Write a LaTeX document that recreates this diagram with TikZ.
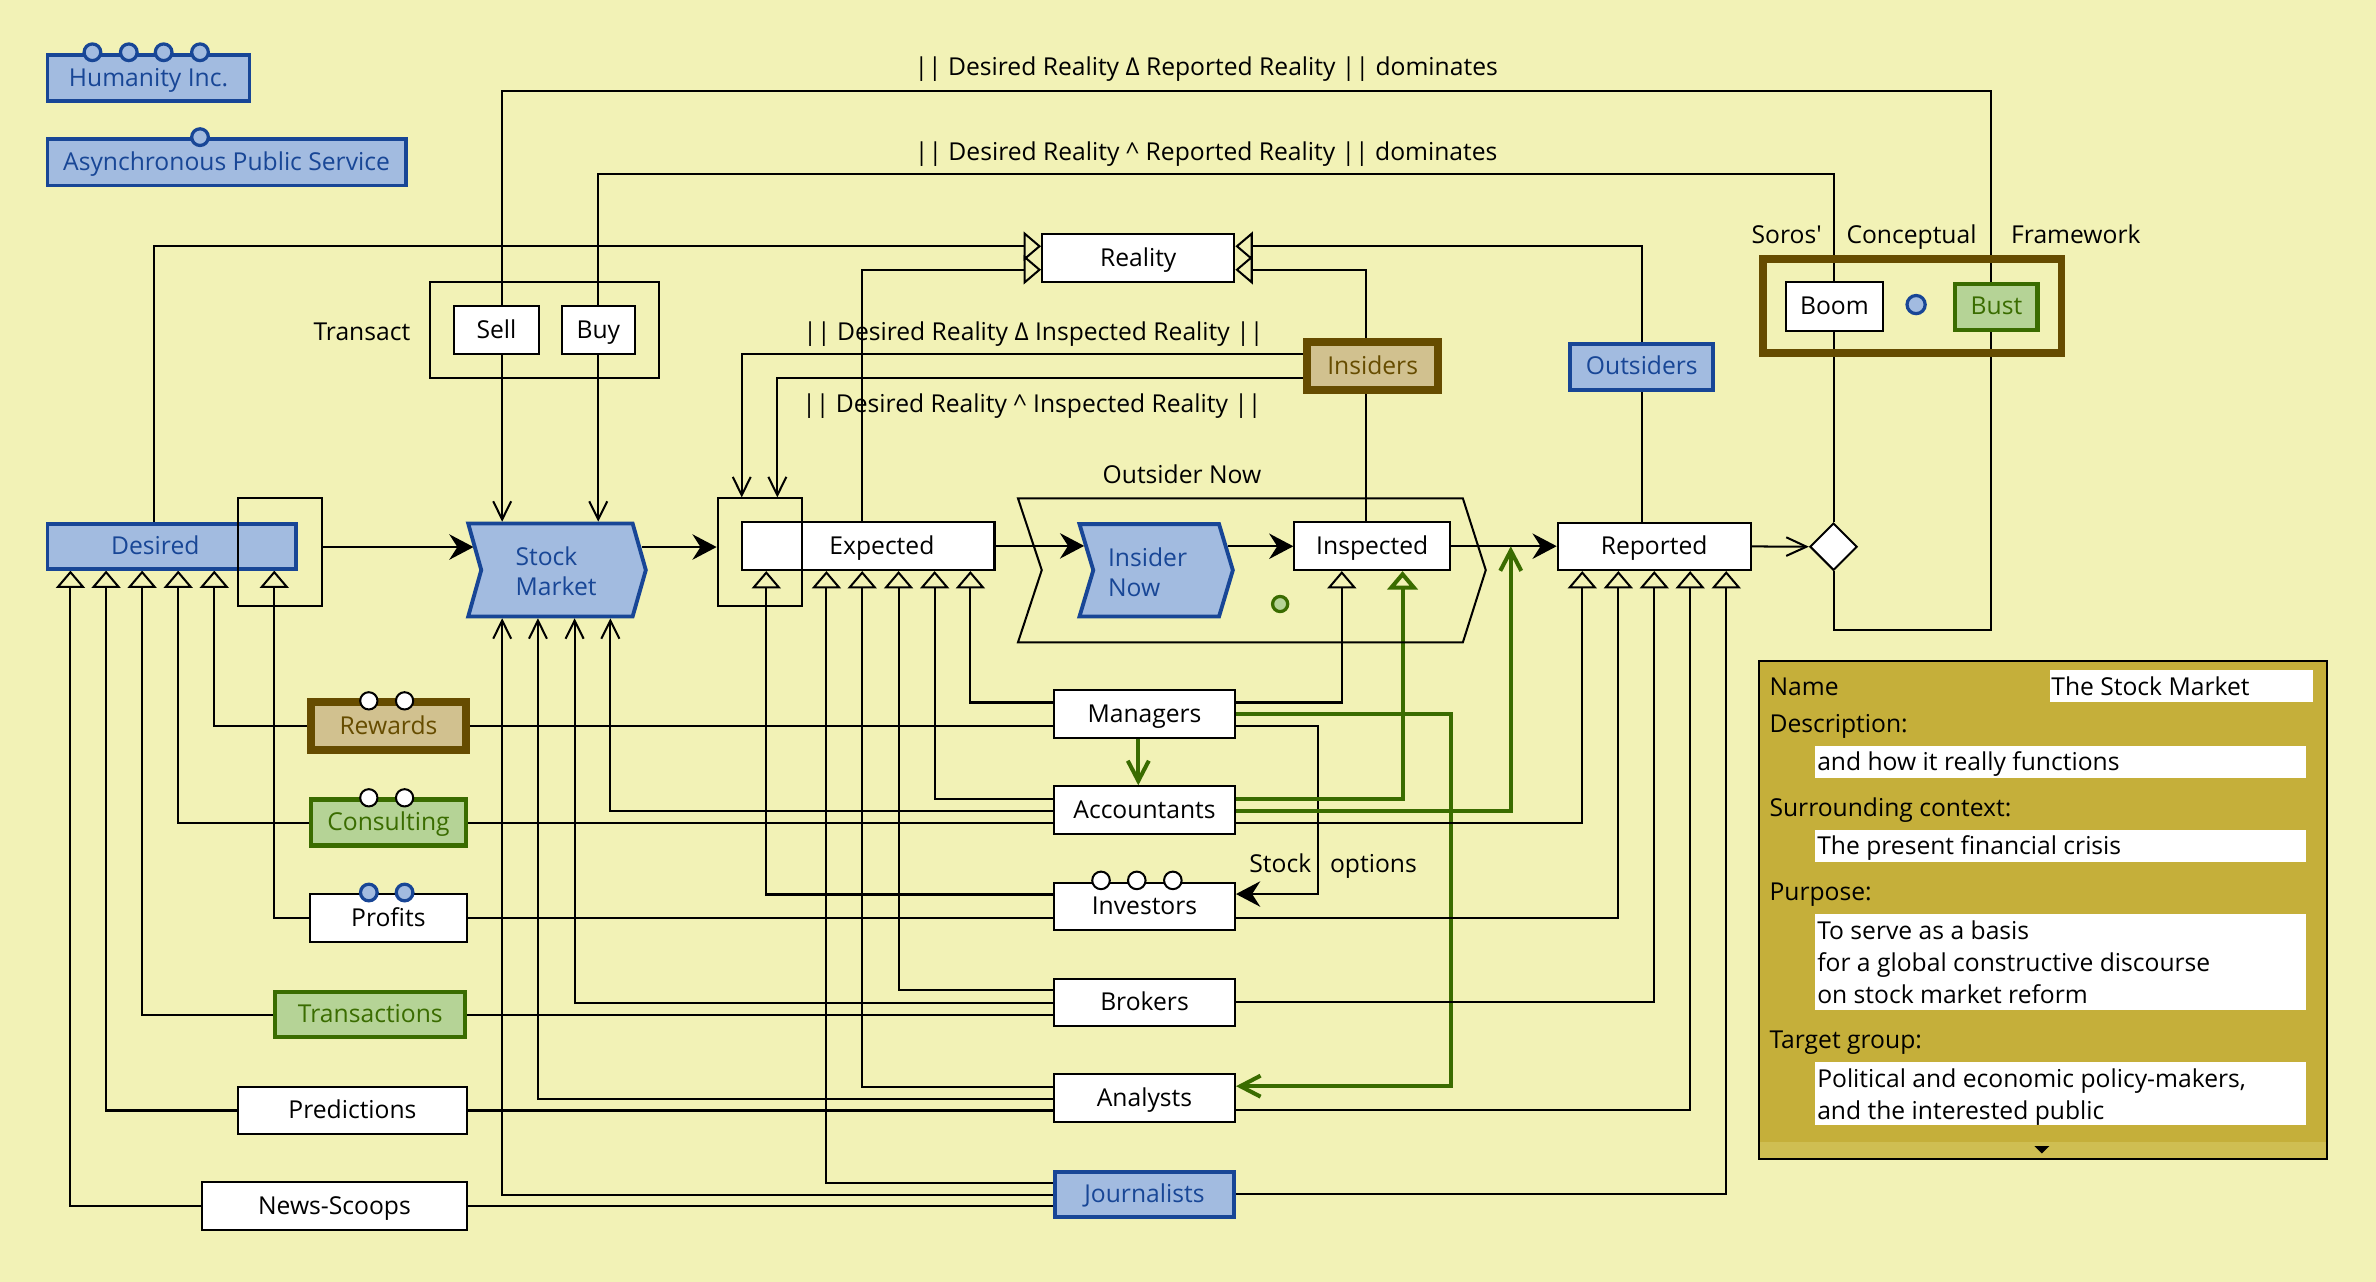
\documentclass[tikz,border=0pt]{standalone}
\usepackage{fontspec}
\setmainfont{Open Sans}
\usetikzlibrary{arrows.meta,shapes.geometric}
\definecolor{bgy}{RGB}{242,242,182}
\definecolor{bluelt}{RGB}{162,187,224}
\definecolor{bluedk}{RGB}{24,70,150}
\definecolor{greenlt}{RGB}{181,211,150}
\definecolor{greendk}{RGB}{58,108,0}
\definecolor{brownlt}{RGB}{209,193,143}
\definecolor{browndk}{RGB}{102,76,0}
\definecolor{olivep}{RGB}{197,175,58}
\definecolor{olivelt}{RGB}{207,190,82}
\pgfdeclarelayer{bgl}
\pgfdeclarelayer{lines}
\pgfsetlayers{bgl,lines,main}
\newcommand\myfont{\fontsize{12.2pt}{14.6pt}\selectfont}
\newcommand\mymlfont{\fontsize{12.2pt}{15pt}\selectfont}
\tikzset{
  bxat/.style n args={4}{at={({(#1+#3)/2},{(#2+#4)/2})}, minimum width={(#3-#1)*0.75pt}, minimum height={(#4-#2)*0.75pt}},
  box/.style={draw=black, line width=1pt, fill=white, inner sep=0pt, font=\myfont, text height=10.4pt, text depth=2.4pt},
  bluebox/.style={box, draw=bluedk, fill=bluelt, text=bluedk, line width=1.9pt},
  greenbox/.style={box, draw=greendk, fill=greenlt, text=greendk, line width=2.1pt},
  brownbox/.style={box, draw=browndk, fill=brownlt, text=browndk, line width=3.9pt},
  grp/.style={draw=black, line width=1pt, inner sep=0pt},
  lbl/.style={font=\myfont, inner sep=0pt, text height=10.2pt, text depth=2.4pt},
  mlbl/.style={font=\mymlfont, inner sep=0pt, align=left, anchor=west},
  conn/.style={draw=black, line width=1pt},
  gconn/.style={draw=greendk, line width=2pt},
  tri/.style={-{Triangle[open, length=8.6pt, width=14.4pt]}},
  gtri/.style={-{Triangle[open, length=9.2pt, width=15pt]}},
  vtip/.style={-{Straight Barb[length=9pt, width=8.9pt]}},
  vtipb/.style={-{Straight Barb[length=10pt, width=9.2pt]}},
  gvtip/.style={-{Straight Barb[length=10pt, width=10.4pt]}},
  stl/.style={-{Stealth[length=12pt, width=12.6pt, inset=4pt]}},
  wdot/.style={draw=black, line width=1pt, fill=white},
  bdot/.style={draw=bluedk, line width=1.6pt, fill=bluelt},
}
\begin{document}
\begin{tikzpicture}[x=0.75pt, y=-0.75pt]
\begin{pgfonlayer}{bgl}
\fill[bgy] (0,0) rectangle (1568,846);
\end{pgfonlayer}
\useasboundingbox (0,0) rectangle (1568,846);

% legend
\node[bluebox, bxat={31.3}{36.3}{164.7}{66.7}] (hum) {Humanity Inc.};
\foreach \cx in {61,85,108,132} \draw[bdot] (\cx,34.5) circle[radius=5.5];
\node[bluebox, bxat={31.3}{91.9}{267.7}{122.4}] (aps) {Asynchronous Public Service};
\draw[bdot] (132,90.5) circle[radius=5.5];

% top labels
\node[lbl] (dom1) at (796,44.5) {|| Desired Reality Δ Reported Reality || dominates};
\node[lbl] (dom2) at (796,100.5) {|| Desired Reality \textasciicircum{} Reported Reality || dominates};

% transact
\node[box, bxat={299.7}{201.7}{355.6}{233.9}] (sell) {Sell};
\node[box, bxat={370.6}{201.7}{419.2}{233.9}] (buy) {Buy};
\node[grp, bxat={283.8}{186.3}{434.6}{249.7}] (trg) {};
\node[lbl, anchor=east] (trl) at (271,219.5) {Transact};

% reality, insiders, outsiders
\node[box, bxat={687.7}{154.4}{814.6}{186.3}] (rea) {Reality};
\node[brownbox, bxat={862.6}{225.6}{949.1}{257.4}] (ins) {Insiders};
\node[lbl] (il1) at (682,219.5) {|| Desired Reality Δ Inspected Reality ||};
\node[lbl] (il2) at (681,267) {|| Desired Reality \textasciicircum{} Inspected Reality ||};
\node[bluebox, bxat={1036.3}{226.8}{1130.7}{257.2}] (outs) {Outsiders};

% framework
\node[draw=browndk, line width=3.9pt, inner sep=0pt, bxat={1163.6}{170.9}{1360.4}{232.8}] (scf) {};
\node[box, bxat={1178.7}{185.9}{1242.5}{218.2}] (boom) {Boom};
\draw[bdot] (1264.5,201) circle[radius=6];
\node[greenbox, bxat={1290.4}{187.4}{1344.6}{217.6}] (bust) {Bust};
\node[lbl, anchor=east] (scf1) at (1202.5,155.5) {Soros\textquotesingle};
\node[lbl, anchor=west] (scf2) at (1218.3,155.5) {Conceptual};
\node[lbl, anchor=west] (scf3) at (1327,155.5) {Framework};

% desired
\node[bluebox, bxat={31.3}{345.6}{195.5}{375.3}] (des) {};
\node[lbl, text=bluedk] (desl) at (102.5,361) {Desired};
\node[grp, bxat={157}{328.9}{212.7}{400}] (desg) {};

% stock market
\filldraw[draw=bluedk, fill=bluelt, line width=1.9pt, line join=miter] (309,345.5) -- (417.5,345.5) -- (426.2,376.2) -- (417.5,406.8) -- (309,406.8) -- (317.6,376.2) -- cycle;
\node[mlbl, text=bluedk] (sm) at (340,377) {Stock\\Market};
\coordinate (smT1) at (331.4,344.3);
\coordinate (smT2) at (394.8,344.3);
\coordinate (smB1) at (331.4,408);
\coordinate (smB2) at (355,408);
\coordinate (smB3) at (379.2,408);
\coordinate (smB4) at (402.8,408);
\coordinate (smW) at (312.5,361);
\coordinate (smE) at (423.5,361);

% expected
\node[box, bxat={489.5}{344.3}{656.3}{376.2}] (exp) {};
\node[lbl] (expl) at (582,361) {Expected};
\node[grp, bxat={473.6}{328.9}{529.3}{400}] (expg) {};

% outsider now / insider now
\draw[line width=1pt, line join=miter] (671.8,328.9) -- (965.4,328.9) -- (980.5,376.2) -- (965.4,423.9) -- (671.8,423.9) -- (687.5,376.2) -- cycle;
\node[lbl] (onl) at (780,314) {Outsider Now};
\filldraw[draw=bluedk, fill=bluelt, line width=1.9pt, line join=miter] (712.4,345.9) -- (804.5,345.9) -- (813.6,376.3) -- (804.5,406.8) -- (712.4,406.8) -- (721.5,376.3) -- cycle;
\node[mlbl, text=bluedk] (inow) at (731,377.5) {Insider\\Now};
\coordinate (inowW) at (715.5,360.5);
\coordinate (inowE) at (810.2,360.5);
\draw[draw=greendk, fill=greenlt, line width=1.6pt] (844.8,398.6) circle[radius=5];

\node[box, bxat={854.2}{344.7}{957}{376.2}] (insp) {Inspected};
\node[box, bxat={1028}{345}{1155.3}{376.2}] (rep) {Reported};
\node[diamond, draw=black, line width=1pt, fill=white, minimum width=23.4pt, minimum height=23.4pt, inner sep=0pt] (dia) at (1210,360.8) {};
\coordinate (gup) at (997,360.5);

% left column
\node[brownbox, bxat={205.3}{463.5}{307.4}{495}] (rew) {Rewards};
\foreach \cx in {243.4,267} \draw[wdot] (\cx,462.5) circle[radius=5.7];
\node[greenbox, bxat={205.4}{527.6}{307.4}{558}] (con) {Consulting};
\foreach \cx in {243.4,267} \draw[wdot] (\cx,526.5) circle[radius=5.7];
\node[box, bxat={204.7}{590}{307.9}{621.9}] (pro) {Profits};
\foreach \cx in {243.4,267} \draw[bdot] (\cx,589) circle[radius=5.5];
\node[greenbox, bxat={181.7}{654.7}{307.1}{684.5}] (tra) {Transactions};
\node[box, bxat={157.3}{717.1}{307.9}{748.6}] (pre) {Predictions};
\node[box, bxat={133.5}{780.3}{307.9}{811.7}] (news) {News-Scoops};

% middle column
\node[box, bxat={695.6}{455.6}{815}{487}] (mgr) {Managers};
\node[box, bxat={695.6}{518.9}{815}{550.5}] (acc) {Accountants};
\node[box, bxat={695.6}{582.5}{815}{613.8}] (inv) {Investors};
\foreach \cx in {726.6,750.2,774} \draw[wdot] (\cx,581) circle[radius=5.8];
\node[box, bxat={695.6}{645.8}{815}{677.1}] (bro) {Brokers};
\node[box, bxat={695.6}{709}{815}{740.7}] (ana) {Analysts};
\node[bluebox, bxat={696.3}{773.5}{814.2}{803.2}] (jou) {Journalists};
\node[lbl, anchor=east] (so1) at (865.6,570.5) {Stock};
\node[lbl, anchor=west] (so2) at (877.5,570.5) {options};

% info panel
\node[draw=black, line width=1pt, fill=olivep, inner sep=0pt, bxat={1160.8}{436.2}{1535.7}{764.6}] (panel) {};
\fill[olivelt] (1161.6,753.7) rectangle (1534.9,763.9);
\fill[black] (1342.5,756.3) -- (1352.5,756.3) -- (1347.5,761.2) -- cycle;
\node[fill=white, inner sep=0pt, bxat={1353}{442.2}{1526.5}{463.3}] (fname) {};
\node[fill=white, inner sep=0pt, bxat={1198}{492}{1521.6}{513.4}] (fdesc) {};
\node[fill=white, inner sep=0pt, bxat={1198}{547.8}{1521.6}{569}] (fctx) {};
\node[fill=white, inner sep=0pt, bxat={1198}{603.2}{1521.6}{666.6}] (fpur) {};
\node[fill=white, inner sep=0pt, bxat={1198}{701}{1521.6}{742.7}] (ftar) {};
\node[lbl, anchor=west] (pn) at (1167.5,453.5) {Name};
\node[lbl, anchor=west] (pnv) at (1353.5,453.5) {The Stock Market};
\node[lbl, anchor=west] (pd) at (1167.5,478) {Description:};
\node[lbl, anchor=west] (pdv) at (1199,503.2) {and how it really functions};
\node[lbl, anchor=west] (pc) at (1167.5,533.4) {Surrounding context:};
\node[lbl, anchor=west] (pcv) at (1199,558.9) {The present financial crisis};
\node[lbl, anchor=west] (pp) at (1167.5,588.8) {Purpose:};
\node[lbl, anchor=west] (ppv1) at (1199,614.7) {To serve as a basis};
\node[lbl, anchor=west] (ppv2) at (1199,635.9) {for a global constructive discourse};
\node[lbl, anchor=west] (ppv3) at (1199,657.2) {on stock market reform};
\node[lbl, anchor=west] (pt) at (1167.5,686.6) {Target group:};
\node[lbl, anchor=west] (ptv1) at (1199,712.7) {Political and economic policy-makers,};
\node[lbl, anchor=west] (ptv2) at (1199,733.7) {and the interested public};

% connectors
\begin{pgfonlayer}{lines}
\draw[conn] (dia.south) -- (dia.south |- 0,415.8) -- (1313.7,415.8) -- (1313.7,60) -- (331.4,60) -- (sell.north -| smT1);
\draw[conn, vtip] (sell.south -| smT1) -- (smT1);
\draw[conn] (dia.north) -- (dia.north |- 0,115) -- (394.8,115) -- (buy.north -| smT2);
\draw[conn, vtip] (buy.south -| smT2) -- (smT2);

\draw[conn, tri] (des.north -| 101.7,0) -- (101.7,162.5) -- (rea.west |- 0,162.5);
\draw[conn, tri] (exp.north -| 569,0) -- (569,178) -- (rea.west |- 0,178);
\draw[conn, tri] (outs.north) -- (outs.north |- 0,162.5) -- (rea.east |- 0,162.5);
\draw[conn, tri] (insp.north -| 901.6,0) -- (901.6,178) -- (rea.east |- 0,178);
\draw[conn] (outs.south) -- (rep.north -| outs.south);

\draw[conn, vtip] (ins.west |- 0,233.9) -- (489.5,233.9) -- (expg.north -| 489.5,0);
\draw[conn, vtip] (ins.west |- 0,249.7) -- (513,249.7) -- (expg.north -| 513,0);

\draw[conn, stl] (desg.east |- smW) -- (smW);
\draw[conn, stl] (smE) -- (expg.west |- smE);
\draw[conn, stl] (exp.east) -- (exp.east -| inowW);
\draw[conn, stl] (inowE) -- (insp.west |- inowE);
\draw[conn, stl] (insp.east) -- (rep.west |- insp.east);
\draw[conn, vtipb] (rep.east) -- (dia.west);

\draw[conn, tri] (news.west) -- (news.west -| 46.5,0) -- (des.south -| 46.5,0);
\draw[conn, tri] (pre.west) -- (pre.west -| 70,0) -- (des.south -| 70,0);
\draw[conn, tri] (tra.west) -- (tra.west -| 93.8,0) -- (des.south -| 93.8,0);
\draw[conn, tri] (con.west) -- (con.west -| 117.6,0) -- (des.south -| 117.6,0);
\draw[conn, tri] (rew.west) -- (rew.west -| 141.4,0) -- (des.south -| 141.4,0);
\draw[conn, tri] (pro.west) -- (pro.west -| 181,0) -- (des.south -| 181,0);

\draw[conn] (rew.east) -- (mgr.west |- rew.east);
\draw[conn] (con.east) -- (acc.west |- con.east);
\draw[conn] (pro.east) -- (inv.west |- pro.east);
\draw[conn] (tra.east) -- (bro.west |- tra.east);
\draw[conn] (pre.east) -- (ana.west |- pre.east);
\draw[conn] (news.east) -- (jou.west |- news.east);

\draw[conn, tri] (mgr.west |- 0,463.6) -- (640.4,463.6) -- (exp.south -| 640.4,0);
\draw[conn, tri] (acc.west |- 0,527) -- (616.8,527) -- (exp.south -| 616.8,0);
\draw[conn, vtip] (acc.west |- 0,535) -- (smB4 |- 0,535) -- (smB4);
\draw[conn, tri] (inv.west |- 0,590.3) -- (505.7,590.3) -- (exp.south -| 505.7,0);
\draw[conn, tri] (bro.west |- 0,653.5) -- (593,653.5) -- (exp.south -| 593,0);
\draw[conn, vtip] (bro.west |- 0,661.6) -- (smB3 |- 0,661.6) -- (smB3);
\draw[conn, tri] (ana.west |- 0,717.3) -- (569,717.3) -- (exp.south -| 569,0);
\draw[conn, vtip] (ana.west |- 0,725) -- (smB2 |- 0,725) -- (smB2);
\draw[conn, tri] (jou.west |- 0,780.5) -- (545.4,780.5) -- (exp.south -| 545.4,0);
\draw[conn, vtip] (jou.west |- 0,788.5) -- (smB1 |- 0,788.5) -- (smB1);

\draw[conn, tri] (mgr.east |- 0,463.6) -- (885.5,463.6) -- (insp.south -| 885.5,0);
\draw[gconn, gvtip] (mgr.east |- 0,471) -- (957.8,471) -- (957.8,716.8) -- (ana.east |- 0,716.8);
\draw[conn, stl] (mgr.east |- 0,479) -- (870,479) -- (870,590) -- (inv.east |- 0,590);
\draw[gconn, gvtip] (mgr.south -| 751.2,0) -- (acc.north -| 751.2,0);
\draw[gconn, gtri] (acc.east |- 0,527) -- (925.6,527) -- (insp.south -| 925.6,0);
\draw[gconn, gvtip] (acc.east |- 0,535) -- (997,535) -- (gup);
\draw[conn, tri] (acc.east |- 0,543) -- (1044.2,543) -- (rep.south -| 1044.2,0);
\draw[conn, tri] (inv.east |- 0,606) -- (1068,606) -- (rep.south -| 1068,0);
\draw[conn, tri] (bro.east |- 0,661.5) -- (1091.7,661.5) -- (rep.south -| 1091.7,0);
\draw[conn, tri] (ana.east |- 0,732.6) -- (1115.4,732.6) -- (rep.south -| 1115.4,0);
\draw[conn, tri] (jou.east |- 0,788) -- (1139.2,788) -- (rep.south -| 1139.2,0);
\end{pgfonlayer}
\end{tikzpicture}
\end{document}
